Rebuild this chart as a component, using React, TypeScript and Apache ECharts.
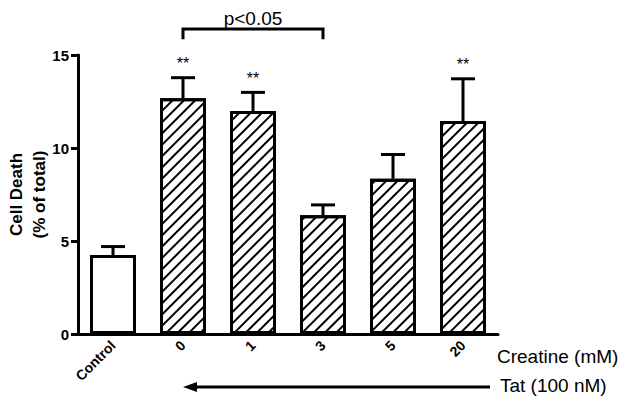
import React, { useEffect, useRef } from "react";
import * as echarts from "echarts";

const categories = ["Control", "0", "1", "3", "5", "20"];
const means = [4.25, 12.67, 11.99, 6.38, 8.35, 11.45];
const upperErr = [4.7, 13.78, 12.99, 6.94, 9.65, 13.72];
const stars = ["", "**", "**", "", "", "**"];
const yTicks = [0, 5, 10, 15];
const bracket = { from: 1, to: 3, top: 16.4, tip: 15.85, label: "p<0.05" };

const FONT = "Arial";

export default function App() {
  const ref = useRef<HTMLDivElement>(null);
  useEffect(() => {
    if (!ref.current) return;
    const chart = echarts.init(ref.current, null, { renderer: "svg" });
    const controlData = means.map((v, i) => (i === 0 ? v : "-"));
    const hatchData = means.map((v, i) => (i === 0 ? "-" : v));
    chart.setOption({
      animation: false,
      grid: {
        left: 78,
        right: 131,
        top: 55,
        bottom: 72,
        containLabel: false,
        outerBoundsMode: "none",
      },
      xAxis: {
        type: "category",
        data: categories,
        axisLine: { lineStyle: { color: "#000", width: 3 } },
        axisTick: { alignWithLabel: true, length: 6, lineStyle: { width: 3, color: "#000" } },
        axisLabel: {
          rotate: 45,
          color: "#000",
          fontWeight: "bold",
          fontSize: 14,
          fontFamily: FONT,
          margin: 9,
        },
      },
      yAxis: {
        type: "value",
        min: 0,
        max: 15,
        interval: 5,
        name: "Cell Death\n(% of total)",
        nameLocation: "middle",
        nameGap: 27,
        nameMoveOverlap: false,
        nameTextStyle: {
          color: "#000",
          fontWeight: "bold",
          fontSize: 17,
          fontFamily: FONT,
          lineHeight: 23,
        },
        splitLine: { show: false },
        axisLine: { show: true, lineStyle: { color: "#000", width: 3 } },
        axisTick: { show: true, length: 7, lineStyle: { width: 3, color: "#000" } },
        axisLabel: {
          color: "#000",
          fontWeight: "bold",
          fontSize: 15,
          fontFamily: FONT,
          margin: 9,
          formatter: (v: number) => (yTicks.includes(v) ? String(v) : ""),
        },
      },
      series: [
        {
          type: "bar",
          data: controlData,
          barWidth: 46,
          barGap: "-100%",
          itemStyle: { color: "#fff", borderColor: "#000", borderWidth: 3 },
        },
        {
          type: "bar",
          data: hatchData,
          barWidth: 46,
          barGap: "-100%",
          itemStyle: {
            color: "#fff",
            borderColor: "#000",
            borderWidth: 3,
            decal: {
              symbol: "rect",
              symbolSize: 1,
              dashArrayX: [1, 0],
              dashArrayY: [2, 6],
              rotation: -Math.PI / 4,
              color: "#000",
            },
          },
        },
        {
          type: "custom",
          clip: false,
          data: means.map((m, i) => [i, m, upperErr[i]]),
          renderItem: (params: any, api: any) => {
            const i = api.value(0);
            const p0 = api.coord([i, api.value(1)]);
            const p1 = api.coord([i, api.value(2)]);
            const children: any[] = [
              {
                type: "line",
                shape: { x1: p0[0], y1: p0[1], x2: p1[0], y2: p1[1] },
                style: { stroke: "#000", lineWidth: 3 },
              },
              {
                type: "line",
                shape: { x1: p1[0] - 12, y1: p1[1], x2: p1[0] + 12, y2: p1[1] },
                style: { stroke: "#000", lineWidth: 3 },
              },
            ];
            const s = stars[params.dataIndex];
            if (s) {
              children.push({
                type: "text",
                x: p1[0],
                y: p1[1] - 14,
                style: {
                  text: s,
                  fill: "#000",
                  font: `16px ${FONT}`,
                  align: "center",
                  verticalAlign: "middle",
                },
              });
            }
            return { type: "group", children };
          },
          z: 5,
        },
        {
          type: "custom",
          clip: false,
          data: [[bracket.from, bracket.to, bracket.top, bracket.tip]],
          renderItem: (params: any, api: any) => {
            const a = api.coord([api.value(0), api.value(2)]);
            const b = api.coord([api.value(1), api.value(2)]);
            const aTip = api.coord([api.value(0), api.value(3)]);
            return {
              type: "group",
              children: [
                {
                  type: "polyline",
                  shape: {
                    points: [
                      [a[0], aTip[1]],
                      [a[0], a[1]],
                      [b[0], b[1]],
                      [b[0], aTip[1]],
                    ],
                  },
                  style: { stroke: "#000", lineWidth: 3, fill: "none" },
                },
                {
                  type: "text",
                  x: (a[0] + b[0]) / 2,
                  y: a[1] - 1,
                  style: {
                    text: bracket.label,
                    fill: "#000",
                    font: `19px ${FONT}`,
                    align: "center",
                    verticalAlign: "bottom",
                  },
                },
              ],
            };
          },
        },
      ],
      graphic: [
        {
          type: "text",
          left: 497,
          top: 347,
          style: { text: "Creatine (mM)", fill: "#000", font: `19px ${FONT}` },
        },
        {
          type: "text",
          left: 500,
          top: 376,
          style: { text: "Tat (100 nM)", fill: "#000", font: `19px ${FONT}` },
        },
        {
          type: "line",
          shape: { x1: 195, y1: 387, x2: 490, y2: 387 },
          style: { stroke: "#000", lineWidth: 3 },
        },
        {
          type: "polygon",
          shape: { points: [[183, 387], [197, 382], [197, 392]] },
          style: { fill: "#000" },
        },
      ],
    });
    return () => chart.dispose();
  }, []);
  return <div ref={ref} style={{ width: 629, height: 406, margin: -8 }} />;
}
